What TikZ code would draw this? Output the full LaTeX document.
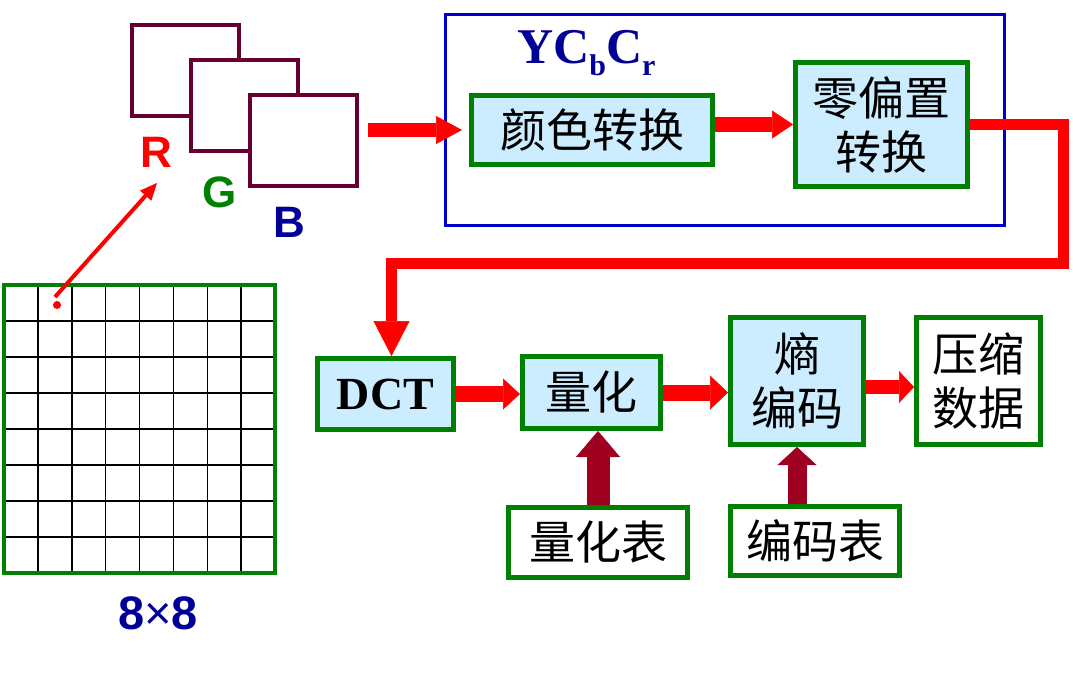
\documentclass[tikz,border=0pt]{standalone}
\usepackage{fontspec}
\setmainfont{Liberation Serif}
\newfontfamily\cjk{Noto Sans CJK SC}
\newfontfamily\arial{Liberation Sans}
\usetikzlibrary{arrows.meta}
\definecolor{framegreen}{RGB}{0,128,0}
\definecolor{stagefill}{RGB}{204,236,255}
\definecolor{planeplum}{RGB}{102,0,51}
\definecolor{labelnavy}{RGB}{0,0,153}
\definecolor{boxblue}{RGB}{0,0,204}
\definecolor{tablered}{RGB}{160,0,32}

\begin{document}
\begin{tikzpicture}[x=1pt,y=-1pt]
\tikzstyle{every node}+=[inner sep=0pt]
\tikzstyle{stage}=[draw=framegreen, line width=5pt, fill=stagefill, align=center, font=\cjk\fontsize{46}{54}\selectfont]
\tikzstyle{result}=[stage, fill=white]
\tikzstyle{plane}=[draw=planeplum, line width=4pt, fill=white, minimum width=107pt, minimum height=91pt]
\tikzstyle{letter}=[font=\arial\bfseries\fontsize{44}{44}\selectfont]
\tikzstyle{flow}=[red, line width=16pt]
\tikzstyle{feed}=[tablered, line width=23pt]
\useasboundingbox (0,0) rectangle (1073,673);
% R, G, B planes
\node [plane] (Rp) at (185.5,70.5) {};
\node [plane] (Gp) at (244.5,105.5) {};
\node [plane] (Bp) at (303.5,140.5) {};
\node [letter, red] (R) at (156,152) {R};
\node [letter, framegreen] (G) at (220,192) {G};
\node [letter, labelnavy] (B) at (289,222) {B};
% 8x8 block
\foreach \i in {1,...,7} {
  \draw [black, line width=1.5pt] ({4+33.875*\i},285) -- ({4+33.875*\i},573);
  \draw [black, line width=1.5pt] (4,{285+36*\i}) -- (275,{285+36*\i});
}
\node [draw=framegreen, line width=4pt, minimum width=271pt, minimum height=288pt] (grid) at (139.5,429) {};
\node [letter, labelnavy, font=\arial\bfseries\fontsize{47}{47}\selectfont] (size) at (158,613) {8{\mdseries ×}8};
\coordinate (pix) at (57,305);
\coordinate (pixtail) at (55,297);
\coordinate (tipR) at (157,183);
\fill [red] (pix) circle (4pt);
\draw [red, line width=4pt, -{Triangle[width=15pt,length=17pt,line width=0.5pt]}] (pixtail) -- (tipR);
% colour space stage
\node [draw=boxblue, line width=3pt, minimum width=559pt, minimum height=211pt] (ycc) at (725,120) {};
\node [anchor=base west, text=labelnavy, font=\bfseries\fontsize{50}{50}\selectfont] (yccname) at (517,63)
  {YC\raisebox{-12pt}{\fontsize{30}{30}\selectfont b}C\raisebox{-12pt}{\fontsize{30}{30}\selectfont r}};
\node [stage, minimum width=241pt, minimum height=69pt] (color) at (592,130) {颜色转换};
\node [stage, minimum width=172pt, minimum height=124pt] (zero) at (881.5,124.5) {零偏置\\转换};
% coding chain
\node [stage, minimum width=136pt, minimum height=71pt, font=\bfseries\fontsize{46}{46}\selectfont] (dct) at (385.5,394) {DCT};
\node [stage, minimum width=138pt, minimum height=72pt] (quant) at (591.5,392.5) {量化};
\node [stage, minimum width=133pt, minimum height=127pt] (entropy) at (797,381) {熵\\编码};
\node [result, minimum width=124pt, minimum height=127pt] (comp) at (978.5,381) {压缩\\数据};
\node [result, minimum width=179pt, minimum height=70pt] (qtab) at (598,542.5) {量化表};
\node [result, minimum width=169pt, minimum height=69pt] (ctab) at (815,541) {编码表};
% arrows
\draw [flow, line width=14pt, shorten <=9pt, shorten >=7pt, -{Triangle[width=28pt,length=26pt,line width=0.5pt]}] (Bp.east |- color.west) -- (color.west);
\draw [flow, line width=15pt, -{Triangle[width=28pt,length=21pt,line width=0.5pt]}] (color.east |- zero.west) -- (zero.west);
\coordinate (bend) at (1063,263);
\draw [red, line width=11pt, line join=miter, -{Triangle[width=36pt,length=35pt,line width=0.5pt]}] (zero.east) -| (bend) -| ([xshift=6pt]dct.north);
\draw [flow, -{Triangle[width=31pt,length=17pt,line width=0.5pt]}] (dct.east) -- (dct.east -| quant.west);
\draw [flow, -{Triangle[width=34pt,length=18pt,line width=0.5pt]}] (quant.east) -- (quant.east -| entropy.west);
\draw [flow, line width=14pt, -{Triangle[width=32pt,length=15pt,line width=0.5pt]}] ([yshift=-6pt]entropy.east) -- ([yshift=-6pt]comp.west);
\draw [feed, -{Triangle[width=44pt,length=26pt,line width=0.5pt]}] (qtab.north) -- (qtab.north |- quant.south);
\draw [feed, line width=19pt, -{Triangle[width=39pt,length=18pt,line width=0.5pt]}] (entropy.south |- ctab.north) -- (entropy.south);
\end{tikzpicture}
\end{document}
